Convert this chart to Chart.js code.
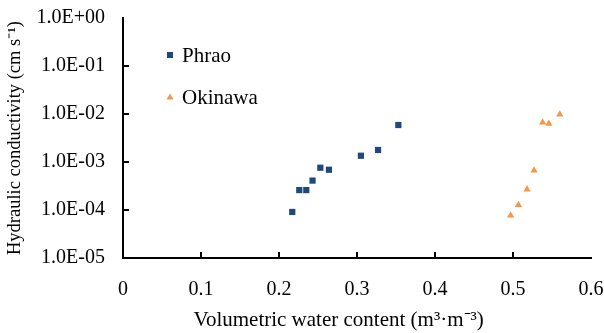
<!DOCTYPE html>
<html lang="en">
<head>
<meta charset="UTF-8" />
<title>Hydraulic conductivity</title>
<script src="https://cdn.jsdelivr.net/npm/chart.js"></script>
<style>
  html, body { margin: 0; padding: 0; background: #fff; }
</style>
</head>
<body>
<canvas id="myChart" width="604" height="333"></canvas>
<script>
// values
const phraoX = [0.217, 0.226, 0.235, 0.243, 0.253, 0.264, 0.305, 0.327, 0.353];
const phraoY = [9.1e-5, 2.6e-4, 2.6e-4, 4.1e-4, 7.6e-4, 6.9e-4, 1.35e-3, 1.78e-3, 5.9e-3];
const okinawaX = [0.497, 0.507, 0.518, 0.527, 0.538, 0.546, 0.560];
const okinawaY = [7.7e-5, 1.27e-4, 2.7e-4, 6.7e-4, 6.7e-3, 6.3e-3, 9.8e-3];
const seriesNames = ["Phrao", "Okinawa"];
const yTicks = [1e-5, 1e-4, 1e-3, 1e-2, 1e-1, 1];
const xTicks = [0, 0.1, 0.2, 0.3, 0.4, 0.5, 0.6];

const serif = "'Liberation Serif', 'Times New Roman', serif";

function sci(v) {
    const e = Math.round(Math.log10(v));
    const sign = e < 0 ? "-" : "+";
    return "1.0E" + sign + String(Math.abs(e)).padStart(2, "0");
}

function toPoints(xs, ys) {
    return xs.map((x, i) => ({ x: x, y: ys[i] }));
}

// inward tick marks on both axes
const innerTicks = {
    id: "innerTicks",
    afterDraw(chart) {
        const ctx = chart.ctx;
        const area = chart.chartArea;
        const xs = chart.scales.x, ys = chart.scales.y;
        ctx.save();
        ctx.strokeStyle = "#000";
        ctx.lineWidth = 2;
        ctx.beginPath();
        xTicks.slice(1, -1).forEach((v) => {
            const px = Math.round(xs.getPixelForValue(v));
            ctx.moveTo(px, area.bottom);
            ctx.lineTo(px, area.bottom - 6);
        });
        yTicks.slice(1, -1).forEach((v) => {
            const py = Math.round(ys.getPixelForValue(v));
            ctx.moveTo(area.left, py);
            ctx.lineTo(area.left + 6, py);
        });
        ctx.stroke();
        ctx.restore();
    },
};

// legend drawn inside the plot area
const innerLegend = {
    id: "innerLegend",
    afterDraw(chart) {
        const ctx = chart.ctx;
        const rows = [55, 97];
        ctx.save();
        chart.data.datasets.forEach((ds, i) => {
            const y = rows[i];
            ctx.fillStyle = ds.backgroundColor;
            ctx.beginPath();
            if (ds.pointStyle === "rect") {
                ctx.rect(167, y - 3, 6, 6);
            } else {
                ctx.moveTo(170, y - 3.5);
                ctx.lineTo(173.5, y + 2.5);
                ctx.lineTo(166.5, y + 2.5);
                ctx.closePath();
            }
            ctx.fill();
            ctx.fillStyle = "#000";
            ctx.font = "21px " + serif;
            ctx.textBaseline = "middle";
            ctx.textAlign = "left";
            ctx.fillText(ds.label, 182, y + 1);
        });
        ctx.restore();
    },
};

const ctx = document.getElementById("myChart").getContext("2d");
const myChart = new Chart(ctx, {
    type: "scatter",
    data: {
        datasets: [
            {
                label: seriesNames[0],
                data: toPoints(phraoX, phraoY),
                pointStyle: "rect",
                pointRadius: 4.4,
                borderWidth: 0,
                backgroundColor: "#1f497d",
                borderColor: "#1f497d",
            },
            {
                label: seriesNames[1],
                data: toPoints(okinawaX, okinawaY),
                pointStyle: "triangle",
                pointRadius: 4.2,
                borderWidth: 0,
                backgroundColor: "#f79646",
                borderColor: "#f79646",
            },
        ],
    },
    options: {
        responsive: false,
        animation: false,
        layout: { padding: { top: 18, right: 13, left: 4, bottom: 0 } },
        plugins: {
            legend: { display: false },
            tooltip: { enabled: false },
        },
        scales: {
            x: {
                type: "linear",
                min: 0,
                max: 0.6,
                afterBuildTicks: (s) => { s.ticks = xTicks.map((v) => ({ value: v })); },
                afterFit: (s) => {
                    s.height = 75;
                    s.paddingLeft = 0;
                    s.paddingRight = 0;
                },
                grid: { display: false, drawTicks: false },
                border: { display: true, color: "#000", width: 2 },
                ticks: {
                    padding: 20,
                    color: "#000",
                    font: { family: serif, size: 20 },
                    maxRotation: 0,
                    callback: (v) => (v === 0 ? "0" : (+v).toFixed(1)),
                },
                title: {
                    display: true,
                    // trailing spaces nudge the centred title left like the original
                    text: "Volumetric water content (m³·m⁻³)" + "\u00a0".repeat(7),
                    color: "#000",
                    font: { family: serif, size: 21 },
                    padding: { top: 0, bottom: 0 },
                },
            },
            y: {
                type: "logarithmic",
                min: 1e-5,
                max: 1,
                afterBuildTicks: (s) => { s.ticks = yTicks.map((v) => ({ value: v })); },
                afterFit: (s) => {
                    s.width = 119;
                    s.paddingTop = 0;
                    s.paddingBottom = 0;
                },
                grid: { display: false, drawTicks: false },
                border: { display: true, color: "#000", width: 2 },
                ticks: {
                    padding: 18,
                    color: "#000",
                    font: { family: serif, size: 20 },
                    callback: (v) => sci(v),
                },
                title: {
                    display: true,
                    text: "Hydraulic conductivity (cm s⁻¹)",
                    color: "#000",
                    font: { family: serif, size: 18.5 },
                    padding: { top: 0, bottom: 0 },
                },
            },
        },
    },
    plugins: [innerTicks, innerLegend],
});
</script>
</body>
</html>
